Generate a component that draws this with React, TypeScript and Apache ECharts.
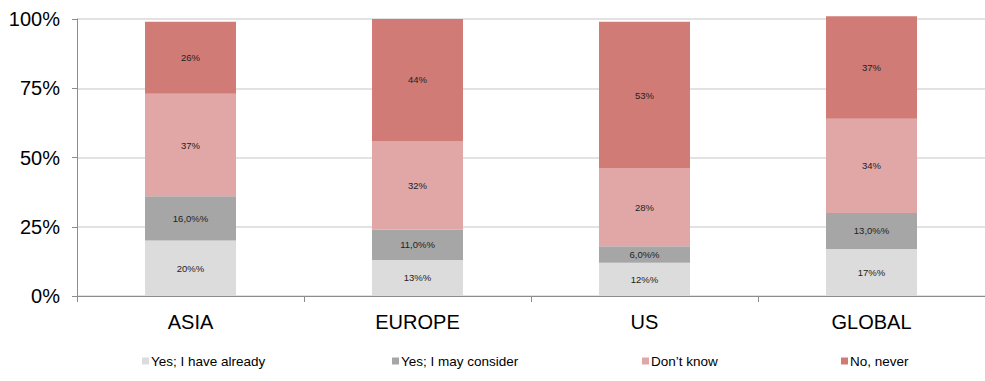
import React, { useEffect, useRef } from "react";
import * as echarts from "echarts";

const categories = ["ASIA", "EUROPE", "US", "GLOBAL"];
const seriesNames = ["Yes; I have already", "Yes; I may consider", "Don’t know", "No, never"];
const haveAlready = [20, 13, 12, 17];
const mayConsider = [16, 11, 6, 13];
const dontKnow = [37, 32, 28, 34];
const noNever = [26, 44, 53, 37];
const yTicks = [0, 25, 50, 75, 100];

const colors = ["#DCDCDC", "#A6A6A6", "#E0A7A6", "#D17B76"];
const labelSuffix = ["%%", ",0%%", "%", "%"];
const legendLeft = [142, 392, 642, 841];

export default function App() {
  const ref = useRef<HTMLDivElement>(null);
  useEffect(() => {
    document.body.style.margin = "0";
    const chart = echarts.init(ref.current!, null, { renderer: "svg" });
    const values = [haveAlready, mayConsider, dontKnow, noNever];
    chart.setOption({
      animation: false,
      textStyle: { fontFamily: "Liberation Sans, Arial, sans-serif" },
      grid: { left: 77, right: 0, top: 19, bottom: 85, containLabel: false },
      legend: seriesNames.map((n, i) => ({
        data: [n],
        left: legendLeft[i],
        top: 354,
        itemWidth: 7,
        itemHeight: 7,
        itemGap: 0,
        icon: "rect",
        padding: 0,
        selectedMode: false,
        textStyle: { fontSize: 13.5, color: "#000", padding: [0, 0, 0, -3] },
      })),
      xAxis: {
        type: "category",
        data: categories,
        axisLine: { lineStyle: { color: "#8C8C8C", width: 1 } },
        axisTick: { show: true, length: 6, lineStyle: { color: "#8C8C8C" } },
        axisLabel: { fontSize: 20, color: "#000", margin: 16 },
      },
      yAxis: {
        type: "value",
        min: 0,
        max: 100,
        interval: 25,
        axisLine: { show: true, lineStyle: { color: "#8C8C8C", width: 1 } },
        axisTick: { show: true, length: 5, lineStyle: { color: "#8C8C8C" } },
        axisLabel: {
          fontSize: 20,
          color: "#000",
          margin: 17,
          formatter: (v: number) => (yTicks.includes(v) ? v + "%" : ""),
        },
        splitLine: { show: true, lineStyle: { color: "#D9D9D9", width: 1.5 } },
      },
      series: seriesNames.map((n, i) => ({
        name: n,
        type: "bar",
        stack: "total",
        barWidth: 91,
        clip: false,
        data: values[i],
        itemStyle: { color: colors[i] },
        label: {
          show: true,
          position: "inside",
          fontSize: 9.5,
          color: "#222",
          formatter: (p: any) => p.value + labelSuffix[i],
        },
      })),
    });
    return () => chart.dispose();
  }, []);
  return (
    <div
      ref={ref}
      style={{ position: "fixed", left: 0, top: 0, width: 985, height: 381, background: "#fff" }}
    />
  );
}
